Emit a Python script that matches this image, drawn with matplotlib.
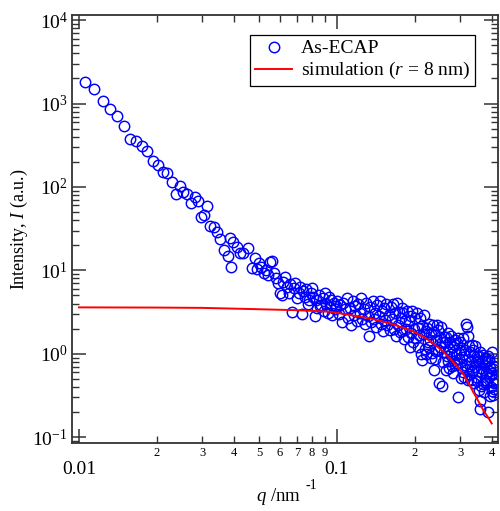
import matplotlib
matplotlib.use("Agg")
import matplotlib.pyplot as plt
from matplotlib.ticker import FixedLocator, NullFormatter
import numpy as np

plt.rcParams['font.family'] = ['Liberation Serif', 'DejaVu Serif']
plt.rcParams['mathtext.fontset'] = 'custom'
plt.rcParams['mathtext.rm'] = 'Liberation Serif'
plt.rcParams['mathtext.it'] = 'Liberation Serif:italic'

# low q, steep part
q_low = [0.01055, 0.01143, 0.01238, 0.01318, 0.01408, 0.01494, 0.01577, 0.01664,
         0.01760, 0.01840, 0.01930, 0.02018, 0.02110, 0.02199, 0.02286, 0.02370,
         0.02462, 0.02522, 0.02630, 0.02710, 0.02820, 0.02900, 0.02960, 0.03050,
         0.03140, 0.03220, 0.03340, 0.03420, 0.03520, 0.03660, 0.03770, 0.03850,
         0.03900, 0.03960, 0.04110, 0.04210, 0.04330, 0.04530, 0.04670]
i_low = [1820, 1480, 1080, 860, 714, 546, 378, 360,
         314, 273, 207, 181, 153, 147, 116, 83,
         103, 88, 83, 65, 75, 67, 44, 46,
         59, 34, 33.5, 29, 23.6, 17.6, 14.9, 24.3,
         11.1, 22.1, 19.3, 16.3, 16.0, 18.4, 10.6]

# knee region
q_mid = [0.048, 0.049, 0.050, 0.051, 0.052, 0.053, 0.054, 0.055, 0.056, 0.057,
         0.058, 0.059, 0.060, 0.061, 0.062, 0.063, 0.064, 0.065, 0.066, 0.067,
         0.068, 0.069, 0.070, 0.071, 0.072, 0.073, 0.074, 0.075, 0.076, 0.077,
         0.078, 0.079, 0.080, 0.081, 0.082, 0.083, 0.084, 0.085, 0.086, 0.087,
         0.088, 0.089, 0.090, 0.091, 0.092, 0.093, 0.094, 0.095, 0.096, 0.097,
         0.098, 0.099]
i_mid = [14.0, 10.5, 12.2, 11.0, 9.3, 10.1, 8.8, 12.7, 13.0, 9.2,
         8.0, 7.0, 5.3, 5.1, 7.3, 8.4, 6.4, 5.3, 6.9, 3.2,
         6.1, 7.0, 4.6, 5.3, 6.3, 3.0, 5.6, 4.8, 5.9, 4.0,
         4.4, 5.3, 6.1, 4.8, 2.8, 4.4, 3.5, 5.0, 3.7, 3.8,
         4.6, 3.3, 5.4, 4.0, 3.1, 4.8, 3.6, 4.4, 2.9, 4.1,
         3.4, 3.7]

# plateau 0.1 - 0.2
q_plat = [0.1000, 0.1015, 0.1030, 0.1045, 0.1060, 0.1075, 0.1090, 0.1105, 0.1120, 0.1135,
          0.1150, 0.1165, 0.1180, 0.1195, 0.1210, 0.1225, 0.1240, 0.1255, 0.1270, 0.1285,
          0.1300, 0.1315, 0.1330, 0.1345, 0.1360, 0.1375, 0.1390, 0.1405, 0.1420, 0.1435,
          0.1450, 0.1465, 0.1480, 0.1495, 0.1510, 0.1525, 0.1540, 0.1555, 0.1570, 0.1585,
          0.1600, 0.1615, 0.1630, 0.1645, 0.1660, 0.1675, 0.1690, 0.1705, 0.1720, 0.1735,
          0.1750, 0.1765, 0.1780, 0.1795, 0.1810, 0.1825, 0.1840, 0.1855, 0.1870, 0.1885,
          0.1900, 0.1915, 0.1930, 0.1945, 0.1960, 0.1975, 0.1990]
i_plat = [4.3, 3.0, 3.8, 2.4, 4.1, 3.4, 4.6, 2.65, 3.5, 2.2,
          4.35, 2.9, 3.7, 2.5, 4.0, 3.1, 4.6, 2.6, 3.4, 2.25,
          4.05, 2.85, 1.65, 3.65, 2.4, 4.3, 2.6, 3.1, 2.1, 3.8,
          2.8, 4.25, 2.25, 3.25, 1.9, 3.55, 2.55, 3.95, 2.2, 2.95,
          1.95, 3.6, 2.6, 3.9, 2.0, 3.1, 1.65, 4.1, 2.2, 3.2,
          1.8, 2.65, 3.55, 1.85, 3.1, 1.5, 2.5, 2.0, 3.3, 1.6,
          2.5, 1.2, 2.8, 1.75, 3.3, 1.4, 2.0]

# high q tail
q_tail = [0.2010, 0.2025, 0.2040, 0.2055, 0.2070, 0.2085, 0.2100, 0.2115, 0.2130, 0.2145,
          0.2160, 0.2175, 0.2190, 0.2205, 0.2220, 0.2235, 0.2250, 0.2265, 0.2280, 0.2295,
          0.2310, 0.2325, 0.2340, 0.2355, 0.2370, 0.2385, 0.2400, 0.2415, 0.2430, 0.2445,
          0.2460, 0.2475, 0.2490, 0.2505, 0.2520, 0.2535, 0.2550, 0.2565, 0.2580, 0.2595,
          0.2610, 0.2625, 0.2640, 0.2655, 0.2670, 0.2685, 0.2700, 0.2715, 0.2730, 0.2745,
          0.2760, 0.2775, 0.2790, 0.2805, 0.2820, 0.2835, 0.2850, 0.2865, 0.2880, 0.2895,
          0.2910, 0.2925, 0.2940, 0.2955, 0.2970, 0.2985, 0.3000, 0.3015, 0.3030, 0.3045,
          0.3060, 0.3075, 0.3090, 0.3105, 0.3120, 0.3135, 0.3150, 0.3165, 0.3180, 0.3195,
          0.3210, 0.3225, 0.3240, 0.3255, 0.3270, 0.3285, 0.3300, 0.3315, 0.3330, 0.3345,
          0.3360, 0.3375, 0.3390, 0.3405, 0.3420, 0.3435, 0.3450, 0.3465, 0.3480, 0.3495,
          0.3510, 0.3525, 0.3540, 0.3555, 0.3570, 0.3585, 0.3600, 0.3615, 0.3630, 0.3645,
          0.3660, 0.3675, 0.3690, 0.3705, 0.3720, 0.3735, 0.3750, 0.3765, 0.3780, 0.3795,
          0.3810, 0.3825, 0.3840, 0.3855, 0.3870, 0.3885, 0.3900, 0.3915, 0.3930, 0.3945,
          0.3960, 0.3975, 0.3990, 0.4005, 0.4020, 0.4035, 0.4050, 0.4065, 0.4080, 0.4095]
i_tail = [2.66, 1.55, 3.05, 1.2, 2.02, 1.70, 2.7, 1.0, 2.15, 0.85,
          1.74, 2.92, 1.15, 1.88, 1.0, 2.06, 1.37, 2.25, 1.19, 1.48,
          0.88, 1.73, 1.03, 2.22, 0.64, 1.83, 0.87, 1.47, 1.07, 2.23,
          1.12, 1.94, 0.45, 1.61, 1.20, 2.12, 0.41, 1.37, 0.79, 1.60,
          1.04, 1.39, 0.63, 1.60, 0.94, 1.77, 0.83, 1.14, 0.68, 1.38,
          0.98, 1.62, 0.71, 1.20, 0.58, 1.32, 0.81, 1.47, 0.73, 0.98,
          1.34, 0.78, 1.55, 0.30, 1.03, 0.87, 1.40, 0.51, 1.12, 0.67,
          0.91, 1.54, 0.61, 1.00, 0.53, 1.11, 0.74, 2.3, 0.65, 2.1,
          0.48, 1.65, 0.57, 1.24, 0.72, 1.04, 0.49, 0.83, 0.61, 1.26,
          0.64, 1.10, 0.45, 0.93, 0.69, 1.23, 0.52, 0.80, 0.47, 0.94,
          0.62, 0.82, 0.37, 0.95, 0.27, 1.05, 0.22, 0.68, 0.41, 0.82,
          0.59, 0.97, 0.43, 0.73, 0.35, 0.80, 0.49, 0.89, 0.44, 0.59,
          0.81, 0.47, 0.93, 0.20, 0.62, 0.52, 0.84, 0.31, 0.67, 0.40,
          0.55, 1.05, 0.36, 0.59, 0.32, 0.65, 0.44, 0.72, 0.38, 0.48]

# simulated curve, r = 8 nm
q_sim = [0.0100, 0.0200, 0.0300, 0.0460, 0.0700, 0.0940, 0.1120, 0.1340, 0.1600,
         0.1754, 0.1920, 0.2037, 0.2200, 0.2360, 0.2550, 0.2740, 0.2900, 0.3000,
         0.3100, 0.3180, 0.3270, 0.3370, 0.3470, 0.3580, 0.3680, 0.3800, 0.3890, 0.3980]
i_sim = [3.60, 3.58, 3.55, 3.44, 3.33, 3.19, 2.92, 2.66, 2.32,
         2.11, 1.93, 1.76, 1.55, 1.33, 1.10, 0.88, 0.72, 0.64,
         0.56, 0.48, 0.42, 0.35, 0.30, 0.25, 0.215, 0.184, 0.165, 0.146]

q = np.concatenate([q_low, q_mid, q_plat, q_tail])
intensity = np.concatenate([i_low, i_mid, i_plat, i_tail])

fig = plt.figure(figsize=(5.0, 5.11), dpi=100)
ax = fig.add_axes([0.144, 0.133, 0.852, 0.838])

ax.plot(q, intensity, 'o', mfc='none', mec='#0000ff', ms=7.5, mew=1.05, label='As-ECAP')
ax.plot(q_sim, i_sim, '-', color='#ff0000', lw=1.4, label=r'simulation ($r$ = 8 nm)')

ax.set_xscale('log')
ax.set_yscale('log')
ax.set_xlim(0.0094, 0.421)
ax.set_ylim(0.085, 11600)

ax.xaxis.set_major_locator(FixedLocator([0.01, 0.1]))
ax.set_xticks([0.01, 0.1])
ax.set_xticklabels(['0.01', '0.1'])
minor_x = [0.02, 0.03, 0.04, 0.05, 0.06, 0.07, 0.08, 0.09, 0.2, 0.3, 0.4]
ax.set_xticks(minor_x, minor=True)
ax.set_xticklabels(['2', '3', '4', '5', '6', '7', '8', '9', '2', '3', '4'], minor=True)

ax.tick_params(which='both', direction='in', top=True, right=True, color='#333333')
ax.tick_params(which='major', length=10, width=1.1)
ax.tick_params(which='minor', length=5, width=1.0)
ax.tick_params(axis='x', which='major', labelsize=14, pad=13)
ax.tick_params(axis='x', which='minor', labelsize=9, pad=3)
ax.tick_params(axis='y', which='major', labelsize=14, pad=3)
ax.yaxis.set_minor_formatter(NullFormatter())

for s in ax.spines.values():
    s.set_color('#333333')
    s.set_linewidth(1.3)

ax.set_ylabel(r'Intensity, $I$ (a.u.)', fontsize=13, labelpad=2)
ax.set_xlabel(r'$q$ /nm', fontsize=13.5, labelpad=6)
ax.xaxis.label.set_x(0.484)
fig.text(0.612, 0.050, '-1', fontsize=10, ha='left', va='center')

leg = ax.legend(loc='upper right', bbox_to_anchor=(0.946, 0.953), fontsize=14,
                frameon=True, fancybox=False, edgecolor='black', framealpha=1,
                borderpad=0.25, labelspacing=0.15, handlelength=1.9,
                handletextpad=0.45, borderaxespad=0)
leg.get_frame().set_linewidth(0.9)

fig.savefig('out.png', dpi=100)
